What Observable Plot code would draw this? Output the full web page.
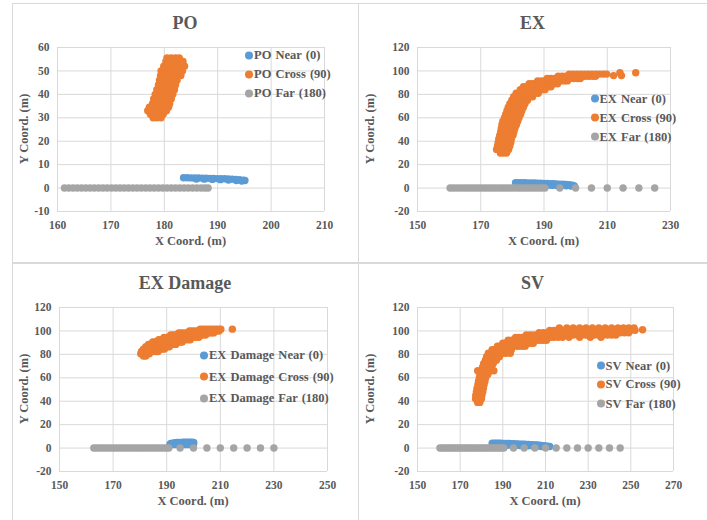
<!DOCTYPE html>
<html><head><meta charset="utf-8">
<script src="https://cdn.jsdelivr.net/npm/d3@7"></script>
<script src="https://cdn.jsdelivr.net/npm/@observablehq/plot@0.6"></script>
<style>
html,body{margin:0;padding:0;background:#fff;}
#wrap{position:relative;width:707px;height:520px;overflow:hidden;font-family:"Liberation Serif","Times New Roman",serif;color:#595959;font-weight:bold;}
.line{position:absolute;background:#d9d9d9;}
.title{position:absolute;font-size:18px;transform:translate(-50%,-50%);white-space:nowrap;}
.xlab{position:absolute;font-size:12.5px;transform:translate(-50%,-50%);white-space:nowrap;}
.ylab{position:absolute;font-size:12.5px;transform:translate(-50%,-50%) rotate(-90deg);white-space:nowrap;}
.row{position:absolute;font-size:12.5px;word-spacing:1px;white-space:nowrap;transform:translateY(-50%);display:flex;align-items:center;}
.sw{width:8px;height:8px;border-radius:50%;margin-right:1px;}
#wrap svg{position:absolute;}
</style></head>
<body><div id="wrap"></div>
<script>
// ---------- colours of the three series ----------
const seriesColors = ["#5B9BD5", "#ED7D31", "#A5A5A5"];

// ---------- PO ----------
const poTitle = "PO";
const poLegend = ["PO Near (0)", "PO Cross (90)", "PO Far (180)"];
const poXTicks = [160, 170, 180, 190, 200, 210];
const poYTicks = [-10, 0, 10, 20, 30, 40, 50, 60];
const poNear = [[183.6,4.4],[184.3,4.4],[185,4.35],[185.7,4.3],[186.4,4.3],[187.1,4.25],[187.8,4.2],[188.5,4.15],[189.2,4.1],[189.9,4.05],[190.6,4.0],[191.3,3.95],[192,3.9],[192.7,3.8],[193.4,3.7],[194.1,3.6],[194.8,3.4],[195.1,3.2],
  [186,3.9],[187.5,3.8],[189,3.7],[190.5,3.6],[192,3.4],[193.5,3.2],[194.5,3.0]];
const poCrossRows = [
  [30,[177.9,178.6,179.4]],
  [31.5,[177.4,178.2,179,179.8]],
  [33,[176.9,177.6,178.4,179.2,180,180.4]],
  [34.5,[177.2,178,178.8,179.6,180.4,180.8]],
  [36,[177.8,178.6,179.4,180.2,181]],
  [38,[178,178.8,179.6,180.4,181.3]],
  [40,[178.3,179.1,179.9,180.7,181.6]],
  [42,[178.6,179.4,180.2,181,181.9]],
  [44,[178.9,179.7,180.5,181.3,182.1]],
  [46,[179.1,179.9,180.7,181.5,182.4]],
  [48,[179.3,180.1,180.9,181.7,182.5,183.1]],
  [50,[179.4,180.2,181,181.8,182.6,183.4]],
  [52,[179.9,180.7,181.5,182.3,183.1,183.8]],
  [54,[180.3,181.1,181.9,182.7,183.5]],
  [55.5,[180.5,181.3,182.1,182.8]]
];
const poFarX = [161.3,162.1,162.9,163.7,164.5,165.3,166.1,166.9,167.7,168.5,169.3,170.1,170.9,171.7,172.5,173.3,174.1,174.9,175.7,176.5,177.3,178.1,178.9,179.7,180.5,181.3,182.1,182.9,183.7,184.5,185.3,186.1,186.9,187.6,188.2];

// ---------- EX ----------
const exTitle = "EX";
const exLegend = ["EX Near (0)", "EX Cross (90)", "EX Far (180)"];
const exXTicks = [150, 170, 190, 210, 230];
const exYTicks = [-20, 0, 20, 40, 60, 80, 100, 120];
const exNear = [[181,4.6],[182,4.6],[183,4.5],[184,4.5],[185,4.4],[186,4.3],[187,4.3],[188,4.2],[189,4.1],[190,4],[191,3.9],[192,3.8],[193,3.7],[194,3.6],[195,3.4],[196,3.2],[197,3],[198,2.8],[199,2.4],[199.6,1.8],
  [191,2.4],[192.5,2.3],[194,2.2],[195.5,2.1],[197,2],[198.5,1.8]];
const exCrossRows = [
  [30,[176.2,177.2,178.2]],
  [33,[175,176,177,178,178.8]],
  [36,[175.3,176.3,177.3,178.3,179.2]],
  [39,[175.5,176.5,177.5,178.5,179.5]],
  [42,[175.7,176.7,177.7,178.7,179.7]],
  [45,[176,177,178,179,180.2]],
  [48,[176.3,177.3,178.3,179.3,180.5]],
  [51,[176.5,177.5,178.5,179.5,180.8]],
  [54,[176.7,177.7,178.7,179.7,180.8,181.3]],
  [57,[177,178,179,180,181,181.7]],
  [60,[177.5,178.5,179.5,180.5,181.5,182.1]],
  [63,[177.9,178.9,179.9,180.9,181.9,182.6]],
  [66,[178.3,179.3,180.3,181.3,182.3,183]],
  [69,[178.7,179.7,180.7,181.7,182.7,183.5]],
  [72,[179.2,180.2,181.2,182.2,183.2,184]],
  [75,[179.8,180.8,181.8,182.8,183.8,184.8]],
  [78,[180.4,181.4,182.4,183.4,184.4,185.4,186.4]],
  [81,[181.2,182.2,183.2,184.2,185.2,186.2,187.2,188.2]],
  [84,[182.5,183.5,184.5,185.5,186.5,187.5,188.5,189.5,190.3]],
  [86.5,[183.5,184.5,185.5,186.5,187.5,188.5,189.5,190.5,191.5,192.2]],
  [89,[185.3,186.3,187.3,188.3,189.3,190.3,191.3,192.3,193.3,194.3]],
  [91.5,[188,189.2,190.4,191.6,192.8,194,195.2,196.4,197.4]],
  [93.5,[191,192.2,193.4,194.6,195.8,197,198.2,199.4,200.6,201.5]],
  [95.5,[194.5,195.7,196.9,198.1,199.3,200.5,201.7,202.9,204.1,205.3,206.3]],
  [97.3,[198,199.2,200.4,201.6,202.8,204,205.2,206.4,207.6,208.8,209.8]],
  [96,[212,214.5]],
  [98.5,[214,219]]
];
const exFarX = [160.3,161.3,162.3,163.3,164.3,165.3,166.3,167.3,168.3,169.3,170.3,171.3,172.3,173.3,174.3,175.3,176.3,177.3,178.3,179.3,180.3,181.3,182.3,183.3,184.3,185.3,186.3,187.3,188.3,189.3,190.3,195,200,205,210,215,220,225];

// ---------- EX Damage ----------
const edTitle = "EX Damage";
const edLegend = ["EX Damage Near (0)", "EX Damage Cross (90)", "EX Damage Far (180)"];
const edXTicks = [150, 170, 190, 210, 230, 250];
const edYTicks = [-20, 0, 20, 40, 60, 80, 100, 120];
const edNear = [[191.5,4],[192.3,4.2],[193,4.6],[193.8,4.8],[194.6,4.8],[195.4,4.9],[196.2,5],[197,5],[197.8,5],[198.6,5],[199.4,5],[200.1,4.8],
  [191.2,3],[192,3],[192.8,3],[193.6,3],[194.4,3],[195.2,3],[196,3],[196.8,3],[197.6,3],[198.4,3],[199.2,3],[200,3]];
const edCrossRows = [
  [78.5,[181.3,182.2]],
  [80.5,[180.3,181.1,181.9,182.7,183.5]],
  [82.5,[180.6,181.4,182.2,183,183.8,184.6,185.4,186.2,186.8]],
  [84.5,[181.3,182.1,182.9,183.7,184.5,185.3,186.1,186.9,187.7,188.5,189.2]],
  [86.5,[182.2,183,183.8,184.6,185.4,186.2,187,187.8,188.6,189.4,190.2,191]],
  [88.5,[183.2,184,184.8,185.6,186.4,187.2,188,188.8,189.6,190.4,191.2,192,192.8,193.4]],
  [90.5,[184.8,185.6,186.4,187.2,188,188.8,189.6,190.4,191.2,192,192.8,193.6,194.4,195.2,195.8]],
  [92.5,[187,188,189,190,191,192,193,194,195,196,197,198,198.8]],
  [94.5,[189,190,191,192,193,194,195,196,197,198,199,200,201,202]],
  [96.5,[191.5,192.5,193.5,194.5,195.5,196.5,197.5,198.5,199.5,200.5,201.5,202.5,203.5,204.5]],
  [98.3,[194.5,195.5,196.5,197.5,198.5,199.5,200.5,201.5,202.5,203.5,204.5,205.5,206.5,207.5]],
  [100,[198.5,199.5,200.5,201.5,202.5,203.5,204.5,205.5,206.5,207.5,208.5,209.5]],
  [101.5,[202.5,203.5,204.5,205.5,206.5,207.5,208.5,209.5,210.2,214.5]]
];
const edFarX = [162.8,163.8,164.8,165.8,166.8,167.8,168.8,169.8,170.8,171.8,172.8,173.8,174.8,175.8,176.8,177.8,178.8,179.8,180.8,181.8,182.8,183.8,184.8,185.8,186.8,187.8,188.8,189.8,190.8,195,200,205,210,215,220,225,230];

// ---------- SV ----------
const svTitle = "SV";
const svLegend = ["SV Near (0)", "SV Cross (90)", "SV Far (180)"];
const svXTicks = [150, 170, 190, 210, 230, 250, 270];
const svYTicks = [-20, 0, 20, 40, 60, 80, 100, 120];
const svNear = [[185,4.2],[186,4.2],[187,4.2],[188,4.1],[189,4.1],[190,4],[191,4],[192,3.9],[193,3.9],[194,3.8],[195,3.7],[196,3.6],[197,3.5],[198,3.4],[199,3.3],[200,3.2],[201,3.1],[202,3],[203,2.9],[204,2.8],[205,2.7],[206,2.6],[207,2.5],[208,2.3],[209,2.1],[210,1.9],[211,1.7],[212,1.4],
  [186,2.6],[188,2.6],[190,2.5],[192,2.4],[194,2.3],[196,2.2],[198,2.1],[200,2],[202,1.9],[204,1.8],[206,1.6],[208,1.4],[210,1.2]];
const svCrossRows = [
  [39,[178.2,179.2]],
  [42,[177.2,178.2,179.2,180]],
  [45,[177.3,178.3,179.3,180.2]],
  [48,[177.6,178.6,179.6,180.6]],
  [51,[177.9,178.9,179.9,180.9]],
  [54,[178.3,179.3,180.3,181.2]],
  [57,[178.6,179.6,180.6,181.6]],
  [60,[179,180,181,182]],
  [63,[179.3,180.3,181.3,182.3,183]],
  [66,[178.2,179.8,180.8,181.8,182.8,184,185.8]],
  [69,[180.5,181.5,182.5,183.5,184.5]],
  [72,[181,182,183,184,185,185.5]],
  [75,[181.8,182.8,183.8,184.8,185.8,187]],
  [78,[182.4,183.4,184.4,185.4,186.4,187.4,188.4]],
  [81,[183.2,184.2,185.2,186.2,187.2,188.2,189.2,190.2,191.5,193.5]],
  [84,[185,186,187,188,189,190,191,192,193,194]],
  [87,[187.5,188.7,189.9,191.1,192.3,193.5,194.7,195.9,197.1,198.3,199.5,200.5]],
  [89.5,[190,191.3,192.6,193.9,195.2,196.5,197.8,199.1,200.4,201.7,203,204.3]],
  [92,[192.5,194,195.5,197,198.5,200,201.5,203,204.5,206,207.5,209,210.5]],
  [94.5,[196,197.5,199,200.5,202,203.5,205,206.5,208,209.5,211,212.5,214,216,218,221,226,231,236]],
  [96.5,[201,202.8,204.6,206.4,208.2,210,211.8,213.6,215.4,217.2,219,221,223,225,227,229,231,233,235,237,239,241,243]],
  [98.5,[207,209,211,213,215,217,219,221,223,225,227,229,231,233,235,237,239,241,243,245,247,249]],
  [100.5,[212,214,216,218,220,222,224,226,228,230,232,234,236,238,240,242,244,246,248,250,252]],
  [102.5,[216.5,220,223,226,229,232,235,238,241,244,246.5,249,251.5]],
  [101,[255.5]]
];
const svFarX = [160.5,161.5,162.5,163.5,164.5,165.5,166.5,167.5,168.5,169.5,170.5,171.5,172.5,173.5,174.5,175.5,176.5,177.5,178.5,179.5,180.5,181.5,182.5,183.5,184.5,185.5,186.5,187.5,188.5,189.5,190.5,195,200,205,210,215,220,225,230,235,240,245];

// ---------- layout ----------
const wrap = document.getElementById("wrap");
function el(cls, css, text) {
  const d = document.createElement("div");
  d.className = cls;
  Object.assign(d.style, css);
  if (text != null) d.textContent = text;
  wrap.appendChild(d);
  return d;
}
// panel borders
el("line", {left:"12px", top:"3px", width:"695px", height:"1px"});
el("line", {left:"12px", top:"3px", width:"1px", height:"517px"});
el("line", {left:"358px", top:"3px", width:"1px", height:"517px"});
el("line", {left:"12px", top:"262px", width:"695px", height:"2px"});

const rowsToPoints = rows => rows.flatMap(([y, xs]) => xs.map(x => [x, y]));
const farPoints = xs => xs.map(x => [x, 0]);

function panel(o) {
  const series = [o.near, rowsToPoints(o.cross), farPoints(o.far)];
  const svg = Plot.plot({
    width: o.w, height: o.h,
    marginLeft: o.ml, marginRight: o.mr, marginTop: o.mt, marginBottom: o.mb,
    x: {domain: [o.xTicks[0], o.xTicks[o.xTicks.length - 1]]},
    y: {domain: [o.yTicks[0], o.yTicks[o.yTicks.length - 1]]},
    style: {fontFamily: '"Liberation Serif","Times New Roman",serif', fontSize: "11.5px", fontWeight: "bold", color: "#595959", background: "transparent", overflow: "visible"},
    marks: [
      Plot.gridX({ticks: o.xTicks, stroke: "#d9d9d9", strokeOpacity: 1}),
      Plot.gridY({ticks: o.yTicks, stroke: "#d9d9d9", strokeOpacity: 1}),
      Plot.axisX({ticks: o.xTicks, tickSize: 0, tickPadding: 9, label: null, tickFormat: d => String(d)}),
      Plot.axisY({ticks: o.yTicks, tickSize: 0, tickPadding: 8, label: null, tickFormat: d => String(d)}),
      ...series.map((pts, i) => Plot.dot(pts, {x: d => d[0], y: d => d[1], r: 3.7, fill: seriesColors[i], stroke: "none"}))
    ]
  });
  svg.style.left = o.left + "px";
  svg.style.top = o.top + "px";
  wrap.appendChild(svg);
  // title and axis labels
  const px0 = o.left + o.ml, px1 = o.left + o.w - o.mr;
  const py0 = o.top + o.mt, py1 = o.top + o.h - o.mb;
  el("title", {left: (o.left + o.cw / 2) + "px", top: (o.top + 20) + "px"}, o.title);
  el("xlab", {left: ((px0 + px1) / 2) + "px", top: (py1 + 30) + "px"}, "X Coord. (m)");
  el("ylab", {left: (o.left + 12) + "px", top: ((py0 + py1) / 2) + "px"}, "Y Coord. (m)");
  // legend
  o.legend.forEach((t, i) => {
    const r = el("row", {left: (o.lx - 4) + "px", top: o.ly[i] + "px"});
    const sw = document.createElement("span");
    sw.className = "sw"; sw.style.background = seriesColors[i];
    r.appendChild(sw);
    r.appendChild(document.createTextNode(t));
  });
}

panel({title: poTitle, legend: poLegend, xTicks: poXTicks, yTicks: poYTicks, near: poNear, cross: poCrossRows, far: poFarX,
  left: 12, top: 3, w: 346, h: 260, cw: 346, ml: 45, mr: 34, mt: 44, mb: 52, lx: 249, ly: [55, 74, 93]});
panel({title: exTitle, legend: exLegend, xTicks: exXTicks, yTicks: exYTicks, near: exNear, cross: exCrossRows, far: exFarX,
  left: 358, top: 3, w: 349, h: 260, cw: 349, ml: 59, mr: 37, mt: 44, mb: 52, lx: 594.5, ly: [98.5, 117.7, 136.7]});
panel({title: edTitle, legend: edLegend, xTicks: edXTicks, yTicks: edYTicks, near: edNear, cross: edCrossRows, far: edFarX,
  left: 12, top: 263, w: 346, h: 257, cw: 346, ml: 47, mr: 31, mt: 44, mb: 49, lx: 204, ly: [355, 376.7, 398.3]});
panel({title: svTitle, legend: svLegend, xTicks: svXTicks, yTicks: svYTicks, near: svNear, cross: svCrossRows, far: svFarX,
  left: 358, top: 263, w: 349, h: 257, cw: 349, ml: 59, mr: 34, mt: 44, mb: 49, lx: 600.5, ly: [365.7, 384.3, 403.7]});
</script>
</body></html>
